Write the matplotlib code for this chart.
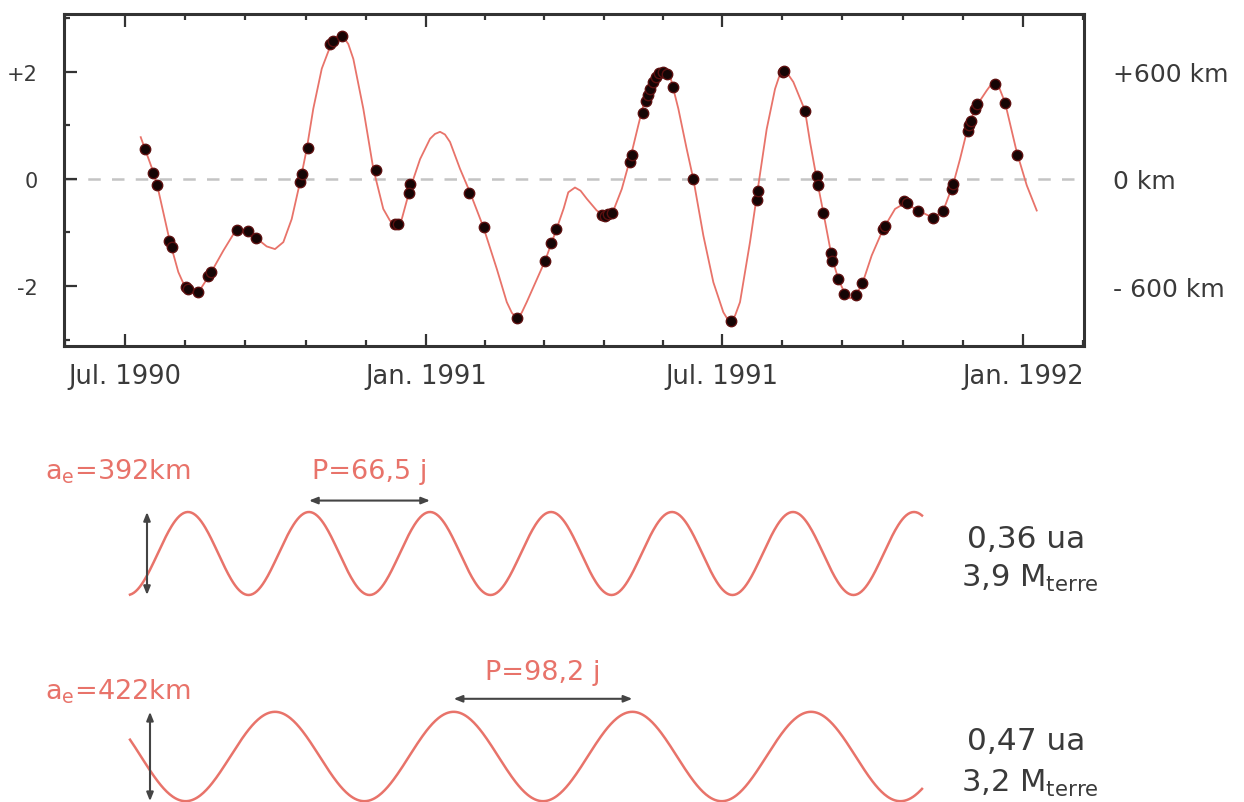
"""Timing residuals of PSR B1257+12 with the two orbital signatures"""

import numpy as np
import matplotlib
matplotlib.use('Agg')
import matplotlib.pyplot as plt

plt.rcParams['font.family'] = 'DejaVu Sans'
plt.rcParams['mathtext.fontset'] = 'dejavusans'

RED = '#e8736a'
INK = '#333333'
TXT = '#3a3a3a'

# residual model curve, days since 1990 Jul 1 -> ms
fit_days = [9.6, 12.2, 17.3, 19.7, 27.5, 32.6, 36.7, 40.8, 44.8, 52.0,
            60.1, 68.3, 75.4, 80.5, 86.6, 91.7, 96.8, 101.9, 107.0, 111.1,
            115.1, 120.3, 126.4, 129.0, 131.5, 133.5, 136.5, 139.6, 145.7, 151.8,
            157.9, 162.0, 165.1, 169.2, 174.2, 180.4, 186.5, 189.5, 192.6, 195.6,
            198.7, 204.8, 210.9, 219.1, 227.3, 233.4, 236.5, 239.5, 242.5, 245.6,
            256.8, 263.9, 268.2, 271.0, 275.1, 278.5, 282.3, 288.4, 293.5, 298.6,
            303.7, 308.8, 313.8, 317.9, 323.0, 325.6, 328.1, 330.7, 333.2, 338.3,
            343.4, 347.5, 353.6, 359.7, 365.8, 368.0, 370.3, 373.0, 376.0, 382.1,
            387.2, 392.3, 397.4, 399.8, 402.1, 405.0, 408.6, 415.7, 418.8, 422.9,
            426.9, 432.1, 436.1, 440.2, 443.3, 447.4, 451.4, 456.5, 463.6, 470.8,
            476.9, 485.0, 494.2, 500.3, 506.4, 510.5, 515.6, 520.7, 526.8, 529.2,
            531.5, 534.5, 538.0, 545.2, 551.3, 557.4]
fit_ms = [0.78, 0.56, 0.13, -0.12, -1.18, -1.74, -2.02, -2.12, -2.12, -1.78,
          -1.34, -0.93, -0.97, -1.11, -1.26, -1.31, -1.18, -0.75, -0.06, 0.56,
          1.31, 2.06, 2.55, 2.64, 2.68, 2.65, 2.52, 2.24, 1.31, 0.19,
          -0.56, -0.78, -0.84, -0.75, -0.19, 0.37, 0.75, 0.84, 0.88, 0.83,
          0.69, 0.19, -0.25, -0.90, -1.68, -2.30, -2.50, -2.60, -2.50, -2.30,
          -1.53, -0.93, -0.55, -0.25, -0.16, -0.22, -0.37, -0.59, -0.69, -0.59,
          -0.19, 0.37, 1.00, 1.50, 1.87, 1.97, 2.02, 2.00, 1.93, 1.31,
          0.56, -0.01, -1.06, -1.93, -2.49, -2.60, -2.65, -2.55, -2.30, -1.18,
          -0.12, 0.93, 1.68, 1.90, 2.02, 1.97, 1.81, 1.28, 0.69, 0.00,
          -0.62, -1.46, -1.87, -2.15, -2.23, -2.15, -1.90, -1.43, -0.93, -0.56,
          -0.45, -0.59, -0.73, -0.59, -0.09, 0.37, 1.00, 1.37, 1.65, 1.75,
          1.79, 1.70, 1.43, 0.50, -0.12, -0.59]

# measured arrival-time residuals
obs_days = [12.2, 17.3, 19.7, 27.1, 28.6, 37.3, 38.7, 44.4, 50.9, 52.4,
            68.3, 75.4, 80.1, 107.0, 108.0, 111.7, 125.3, 127.4, 132.5, 153.5,
            164.9, 166.7, 174.3, 173.6, 210.5, 219.5, 239.9, 256.8, 260.3, 263.5,
            291.4, 293.5, 295.5, 297.6, 308.8, 309.8, 316.9, 318.5, 319.6, 321.0,
            322.6, 324.5, 326.5, 329.1, 331.5, 335.2, 347.1, 370.3, 386.2, 386.8,
            402.1, 402.9, 415.7, 422.9, 423.9, 426.6, 431.5, 432.5, 436.1, 439.8,
            447.0, 450.8, 463.6, 464.6, 476.3, 478.3, 485.0, 494.2, 499.9, 505.4,
            506.4, 515.2, 516.0, 517.0, 519.7, 520.7, 531.9, 538.0, 545.5]
obs_ms = [0.56, 0.12, -0.12, -1.15, -1.27, -2.02, -2.06, -2.12, -1.81, -1.74,
          -0.95, -0.97, -1.11, -0.06, 0.09, 0.57, 2.52, 2.57, 2.67, 0.17,
          -0.84, -0.84, -0.10, -0.27, -0.26, -0.90, -2.60, -1.54, -1.19, -0.94,
          -0.67, -0.69, -0.66, -0.64, 0.32, 0.44, 1.24, 1.46, 1.56, 1.68,
          1.81, 1.91, 1.97, 1.99, 1.96, 1.71, -0.01, -2.65, -0.40, -0.22,
          1.99, 2.02, 1.26, 0.06, -0.11, -0.64, -1.39, -1.53, -1.86, -2.14,
          -2.16, -1.95, -0.94, -0.88, -0.42, -0.45, -0.60, -0.73, -0.59, -0.18,
          -0.09, 0.89, 1.00, 1.09, 1.31, 1.39, 1.78, 1.42, 0.44]

date_ticks = [0, 184, 365, 549]
date_labels = ['Jul. 1990', 'Jan. 1991', 'Jul. 1991', 'Jan. 1992']
ms_ticks = [-2, 0, 2]
ms_labels = ['-2', '0', '+2']
km_labels = ['- 600 km', '0 km', '+600 km']

# the two planets: amplitude (km), period (days)
planets = [
    dict(a_km=392, period=66.5, a_txt='392km', p_txt='66,5 j', dist='0,36 ua', mass='3,9'),
    dict(a_km=422, period=98.2, a_txt='422km', p_txt='98,2 j', dist='0,47 ua', mass='3,2'),
]

W, H = 1244, 803
fig = plt.figure(figsize=(W / 100., H / 100.), dpi=100)

# ---- residuals panel ----
ax = fig.add_axes([64. / W, 1 - 347. / H, 1020. / W, 332. / H])
ax.axhline(0, color='#c4c4c4', lw=1.8, dashes=(5, 4.5), zorder=1)
ax.plot(fit_days, fit_ms, color=RED, lw=1.3, zorder=2)
ax.plot(obs_days, obs_ms, 'o', ms=7.5, mfc='#150505', mec='#5c1010', mew=1.0, zorder=3)

ax.set_xlim(-37.3, 586.3)
ax.set_ylim(-3.12, 3.08)

minor = [-36.8, 585.8]
for a, b in zip(date_ticks[:-1], date_ticks[1:]):
    minor.extend(np.linspace(a, b, 6)[1:-1])
ax.set_xticks(date_ticks)
ax.set_xticklabels(date_labels)
ax.set_xticks(minor, minor=True)
ax.set_yticks(ms_ticks)
ax.set_yticklabels(ms_labels)
ax.set_yticks([-3, -1, 1, 3], minor=True)

ax.tick_params(which='both', direction='in', top=True, right=True, color=INK, width=1.6)
ax.tick_params(which='major', length=9)
ax.tick_params(which='minor', length=4.5)
ax.tick_params(axis='x', which='major', labelsize=18.5, labelcolor=TXT, pad=12)
ax.tick_params(axis='y', which='major', labelsize=15, labelcolor=TXT, pad=19)
for s in ax.spines.values():
    s.set_linewidth(2.2)
    s.set_color(INK)

axr = ax.twinx()
axr.set_ylim(ax.get_ylim())
axr.set_yticks(ms_ticks)
axr.set_yticklabels(km_labels)
axr.tick_params(direction='in', length=0, labelsize=18, labelcolor=TXT, pad=21)
for s in axr.spines.values():
    s.set_visible(False)

# ---- individual planet signatures ----
px_per_day = 121. / 66.5
km_half = 60. / (41.5 / 392.)
x0_px = 100.
span_days = 850. / px_per_day
centres = [554.5, 757.5]
starts = [130., 130.]
ends = [922., 922.]
first_peak = [188., 275.]
arrow_km = [500., 545.]
arrow_x = [147., 150.]
label_y = [472., 673.]
a_label_y = [472., 692.]
dist_y = [[540., 578.], [742., 783.]]
arrow_props = dict(arrowstyle='<|-|>,head_length=0.5,head_width=0.2',
                   color='#444444', lw=1.5, shrinkA=0, shrinkB=0)

for i, pl in enumerate(planets):
    cy = centres[i]
    axw = fig.add_axes([x0_px / W, 1 - (cy + 60.) / H, 850. / W, 120. / H])
    axw.set_xlim(0, span_days)
    axw.set_ylim(-km_half, km_half)
    axw.axis('off')

    t0 = (first_peak[i] - x0_px) / px_per_day
    t = np.linspace((starts[i] - x0_px) / px_per_day, (ends[i] - x0_px) / px_per_day, 800)
    axw.plot(t, pl['a_km'] * np.cos(2 * np.pi * (t - t0) / pl['period']),
             color=RED, lw=1.8, clip_on=False)

    # amplitude arrow
    ta = (arrow_x[i] - x0_px) / px_per_day
    axw.annotate('', xy=(ta, pl['a_km']), xytext=(ta, -pl['a_km']),
                 arrowprops=arrow_props, annotation_clip=False)

    # period arrow, from one crest to the next
    tp = t0 + pl['period']
    axw.annotate('', xy=(tp + pl['period'], arrow_km[i]), xytext=(tp, arrow_km[i]),
                 arrowprops=arrow_props, annotation_clip=False)
    fig.text((x0_px + (tp + pl['period'] / 2.) * px_per_day) / W, 1 - label_y[i] / H,
             'P=' + pl['p_txt'], color=RED, fontsize=19.5, ha='center', va='center')

    fig.text(45. / W, 1 - a_label_y[i] / H, r'a$_\mathrm{e}$=' + pl['a_txt'],
             color=RED, fontsize=19.5, ha='left', va='center')
    fig.text(1026. / W, 1 - dist_y[i][0] / H, pl['dist'], color=TXT,
             fontsize=22.5, ha='center', va='center')
    fig.text(1030. / W, 1 - dist_y[i][1] / H, pl['mass'] + r' M$_\mathrm{terre}$',
             color=TXT, fontsize=22, ha='center', va='center')

fig.savefig('out.png', dpi=100, facecolor='white')
